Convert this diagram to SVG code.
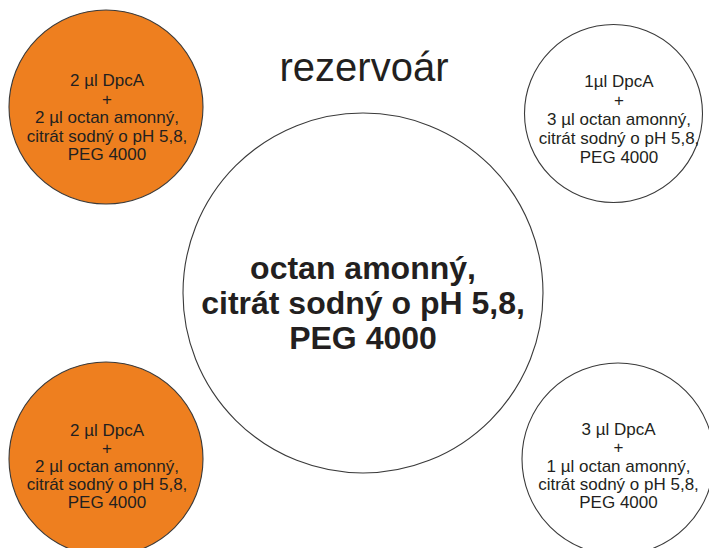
<svg xmlns="http://www.w3.org/2000/svg" width="709" height="548" viewBox="0 0 709 548">
  <style>
    .ring { stroke: #3a3a3a; stroke-width: 1.1; }
    .drop { fill: #ee7f1f; }
    .empty { fill: #ffffff; }
    text { font-family: "Liberation Sans", Arial, sans-serif; fill: #231f20; text-anchor: middle; }
    .small { font-size: 17px; }
    .big { font-size: 32px; font-weight: bold; }
    .title { font-size: 40px; }
  </style>
  <rect width="709" height="548" fill="#ffffff"/>

  <!-- reservoir in the middle -->
  <g id="reservoir">
    <circle class="ring empty" cx="363" cy="293" r="180"/>
    <text class="big" x="363" y="279">octan amonný,</text>
    <text class="big" x="363" y="314">citrát sodný o pH 5,8,</text>
    <text class="big" x="363" y="349">PEG 4000</text>
  </g>

  <text id="title" class="title" x="364" y="81">rezervoár</text>

  <!-- drops -->
  <g id="drop-top-left">
    <circle class="ring drop" cx="106" cy="107" r="97"/>
    <text class="small" x="107" y="86">2 µl DpcA</text>
    <text class="small" x="107" y="104.5">+</text>
    <text class="small" x="107" y="123">2 µl octan amonný,</text>
    <text class="small" x="107" y="141.5">citrát sodný o pH 5,8,</text>
    <text class="small" x="107" y="160">PEG 4000</text>
  </g>

  <g id="drop-top-right">
    <circle class="ring empty" cx="613.5" cy="113.5" r="89"/>
    <text class="small" x="619" y="87">1µl DpcA</text>
    <text class="small" x="619" y="106">+</text>
    <text class="small" x="619" y="125">3 µl octan amonný,</text>
    <text class="small" x="619" y="144">citrát sodný o pH 5,8,</text>
    <text class="small" x="619" y="163">PEG 4000</text>
  </g>

  <g id="drop-bottom-left">
    <circle class="ring drop" cx="106" cy="459" r="97"/>
    <text class="small" x="107" y="436">2 µl DpcA</text>
    <text class="small" x="107" y="454">+</text>
    <text class="small" x="107" y="472">2 µl octan amonný,</text>
    <text class="small" x="107" y="490">citrát sodný o pH 5,8,</text>
    <text class="small" x="107" y="508">PEG 4000</text>
  </g>

  <g id="drop-bottom-right">
    <circle class="ring empty" cx="618" cy="459" r="96"/>
    <text class="small" x="618.5" y="435">3 µl DpcA</text>
    <text class="small" x="618.5" y="453">+</text>
    <text class="small" x="618.5" y="471.5">1 µl octan amonný,</text>
    <text class="small" x="618.5" y="490">citrát sodný o pH 5,8,</text>
    <text class="small" x="618.5" y="508">PEG 4000</text>
  </g>

  <g id="connectors"/>
</svg>
